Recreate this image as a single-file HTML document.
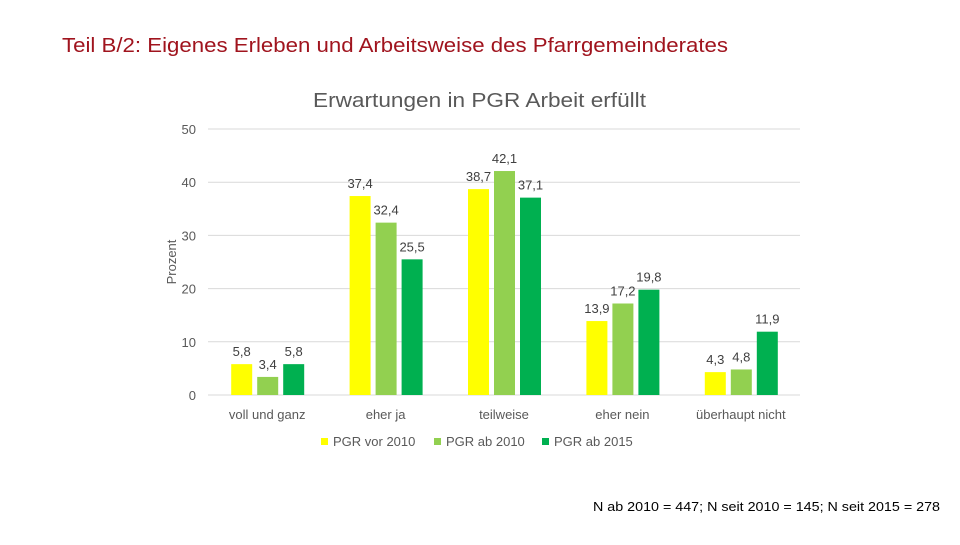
<!DOCTYPE html>
<html><head><meta charset="utf-8"><style>
body{margin:0;width:960px;height:540px;background:#fff;overflow:hidden;font-family:"Liberation Sans",sans-serif}
</style></head><body>
<svg width="960" height="540">
<text x="62" y="52" font-size="20" fill="#a0141e" textLength="666" lengthAdjust="spacingAndGlyphs">Teil B/2: Eigenes Erleben und Arbeitsweise des Pfarrgemeinderates</text>
<text x="313" y="107" font-size="20" fill="#595959" textLength="333" lengthAdjust="spacingAndGlyphs">Erwartungen in PGR Arbeit erfüllt</text>
<text transform="translate(176,262) rotate(-90)" font-size="13" fill="#595959" text-anchor="middle">Prozent</text>
<g id="grid"></g><g id="bars"></g><g id="labels"></g>
<g id="legend" font-size="13" fill="#595959"></g>
<text x="593" y="511" font-size="13" fill="#000" textLength="347" lengthAdjust="spacingAndGlyphs">N ab 2010 = 447; N seit 2010 = 145; N seit 2015 = 278</text>
</svg>
<script>
const categories=["voll und ganz","eher ja","teilweise","eher nein","überhaupt nicht"];
const seriesNames=["PGR vor 2010","PGR ab 2010","PGR ab 2015"];
const vor2010=[5.8,37.4,38.7,13.9,4.3];
const ab2010=[3.4,32.4,42.1,17.2,4.8];
const ab2015=[5.8,25.5,37.1,19.8,11.9];
const yTicks=[0,10,20,30,40,50];
const colors=["#ffff00","#92d050","#00b050"];
const ns="http://www.w3.org/2000/svg";
const x0=208,x1=800,yb=395,yt=129;
const y=v=>yb-(v/50)*(yb-yt);
const bw=(x1-x0)/categories.length;
function mk(t,a,p){const e=document.createElementNS(ns,t);for(const k in a)e.setAttribute(k,a[k]);p.appendChild(e);return e;}
const g=document.getElementById('grid');
yTicks.forEach(v=>{const l=mk('line',{x1:x0,x2:x1,y1:y(v),y2:y(v),stroke:'#d9d9d9'},g);


const t=mk('text',{x:196,y:y(v)+5,'font-size':13,fill:'#595959','text-anchor':'end'},g);t.textContent=v;

});
const B=document.getElementById('bars'),L=document.getElementById('labels');
const series=[vor2010,ab2010,ab2015];
categories.forEach((c,i)=>{const cx=x0+bw*(i+0.5);
series.forEach((s,j)=>{const bx=cx-36+j*26;
const r=mk('rect',{x:bx,y:y(s[i]),width:21,height:yb-y(s[i]),fill:colors[j]},B);


const t=mk('text',{x:bx+10.5,y:y(s[i])-8,'font-size':13,fill:'#404040','text-anchor':'middle'},L);
t.textContent=String(s[i]).replace('.',',');

});
const t=mk('text',{x:cx,y:419,'font-size':13,fill:'#595959','text-anchor':'middle'},L);t.textContent=c;

});
const lg=document.getElementById('legend');const lx=[321,434,542];
seriesNames.forEach((n,j)=>{const r=mk('rect',{x:lx[j],y:438,width:7,height:7,fill:colors[j]},lg);


const t=mk('text',{x:lx[j]+12,y:446},lg);t.textContent=n;

});
</script>
</body></html>
